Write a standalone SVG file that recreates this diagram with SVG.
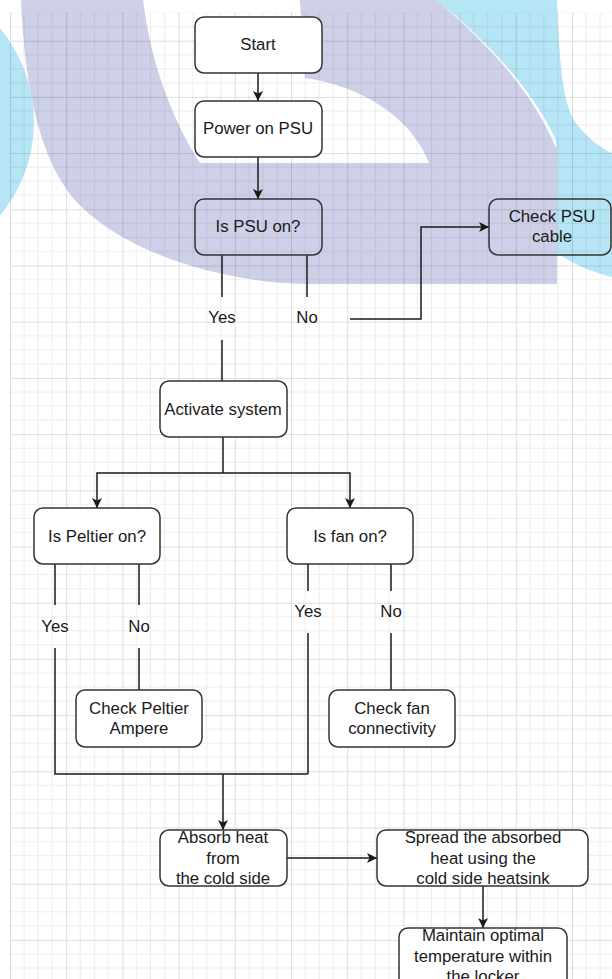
<svg xmlns="http://www.w3.org/2000/svg" width="612" height="979" viewBox="0 0 612 979">
<style>
.box{stroke:#333;stroke-width:1.5;fill:#fff}
.clear{fill:none}
.lbl{font-family:"Liberation Sans",Arial,sans-serif;font-size:16.8px;fill:#1a1a1a;text-anchor:middle}
.ln{fill:none;stroke:#1a1a1a;stroke-width:1.5}
.ar{marker-end:url(#arrow)}
</style>
<defs>
<pattern id="grid" patternUnits="userSpaceOnUse" x="10" y="-15.5" width="56.2" height="56.2">
<path d="M14.05,0V56.2M28.1,0V56.2M42.15,0V56.2M0,14.05H56.2M0,28.1H56.2M0,42.15H56.2" stroke="#000" stroke-opacity="0.07" stroke-width="1" fill="none"/>
<path d="M0.5,0V56.2M0,0.5H56.2" stroke="#000" stroke-opacity="0.13" stroke-width="1" fill="none"/>
</pattern>
<marker id="arrow" markerUnits="userSpaceOnUse" markerWidth="12" markerHeight="12" refX="10" refY="5" orient="auto" viewBox="0 0 12 10">
<path d="M0,0 L10,5 L0,10 L2.5,5 Z" fill="#1a1a1a"/>
</marker>
</defs>
<rect width="612" height="979" fill="#fff"/>
<g id="watermark">
<circle cx="-112" cy="122" r="146" fill="#b6e5f6"/>
<path d="M437,0 L557,0 C559,40 560,100 575,122 C585,135 598,147 612,153 L612,277 C590,272 570,262 557,253 L556,140 C530,85 485,40 437,0 Z" fill="#b6e5f6"/>
<path fill-rule="evenodd" fill="#cdd0e7" d="M21,0 L437,0 C480,38 530,85 557,150 L557,284 L306,284 C215,282 120,250 75,200 C40,160 25,90 21,0 Z M143,0 L300,0 L305,78 C362,86 412,118 429,163 L200,163 C172,120 150,60 143,0 Z"/>
</g>
<rect x="10" y="12.6" width="602" height="967" fill="url(#grid)"/>
<g id="connectors">
<path class="ln ar" d="M258,73 V101"/>
<path class="ln ar" d="M258,157 V199"/>
<path class="ln" d="M222,255 V297 M222,340 V381"/>
<path class="ln" d="M307,255 V297"/>
<path class="ln ar" d="M350,319 H421 V227 H489"/>
<path class="ln" d="M223,437 V473"/>
<path class="ln ar" d="M223,473 H97 V508"/>
<path class="ln ar" d="M223,473 H350 V508"/>
<path class="ln" d="M55,564 V605 M55,648 V774 H308"/>
<path class="ln" d="M139,564 V605 M139,648 V690"/>
<path class="ln" d="M308,564 V591 M308,633 V774"/>
<path class="ln" d="M391,564 V591 M391,633 V690"/>
<path class="ln ar" d="M223,774 V830"/>
<path class="ln ar" d="M287,858 H377"/>
<path class="ln ar" d="M483,886 V928"/>
<text class="lbl" x="222" y="323">Yes</text>
<text class="lbl" x="307" y="323">No</text>
<text class="lbl" x="55" y="632">Yes</text>
<text class="lbl" x="139" y="632">No</text>
<text class="lbl" x="308" y="617">Yes</text>
<text class="lbl" x="391" y="617">No</text>
</g>
<g id="start"><rect class="box" x="195" y="17" width="127" height="56" rx="9"/><text class="lbl" x="258" y="50">Start</text></g>
<g id="power"><rect class="box" x="195" y="101" width="127" height="56" rx="9"/><text class="lbl" x="258" y="134">Power on PSU</text></g>
<g id="is-psu"><rect class="box clear" x="195" y="199" width="127" height="56" rx="9"/><text class="lbl" x="258" y="232">Is PSU on?</text></g>
<g id="check-psu"><rect class="box clear" x="489" y="199" width="122" height="56" rx="9"/><text class="lbl" x="552" y="222">Check PSU</text><text class="lbl" x="552" y="242">cable</text></g>
<g id="activate"><rect class="box" x="160" y="381" width="127" height="56" rx="9"/><text class="lbl" x="223" y="415">Activate system</text></g>
<g id="is-peltier"><rect class="box" x="34" y="508" width="126" height="56" rx="9"/><text class="lbl" x="97" y="542">Is Peltier on?</text></g>
<g id="is-fan"><rect class="box" x="287" y="508" width="126" height="56" rx="9"/><text class="lbl" x="350" y="542">Is fan on?</text></g>
<g id="check-peltier"><rect class="box" x="76" y="690" width="126" height="57" rx="9"/><text class="lbl" x="139" y="714">Check Peltier</text><text class="lbl" x="139" y="734">Ampere</text></g>
<g id="check-fan"><rect class="box" x="329" y="690" width="126" height="57" rx="9"/><text class="lbl" x="392" y="714">Check fan</text><text class="lbl" x="392" y="734">connectivity</text></g>
<g id="absorb"><rect class="box" x="160" y="830" width="127" height="56" rx="9"/><text class="lbl" x="223" y="843">Absorb heat</text><text class="lbl" x="223" y="864">from</text><text class="lbl" x="223" y="884">the cold side</text></g>
<g id="spread"><rect class="box" x="377" y="830" width="211" height="56" rx="9"/><text class="lbl" x="483" y="843">Spread the absorbed</text><text class="lbl" x="483" y="864">heat using the</text><text class="lbl" x="483" y="884">cold side heatsink</text></g>
<g id="maintain"><rect class="box" x="399" y="928" width="168" height="70" rx="9"/><text class="lbl" x="483" y="941">Maintain optimal</text><text class="lbl" x="483" y="962">temperature within</text><text class="lbl" x="483" y="982">the locker</text></g>
</svg>
